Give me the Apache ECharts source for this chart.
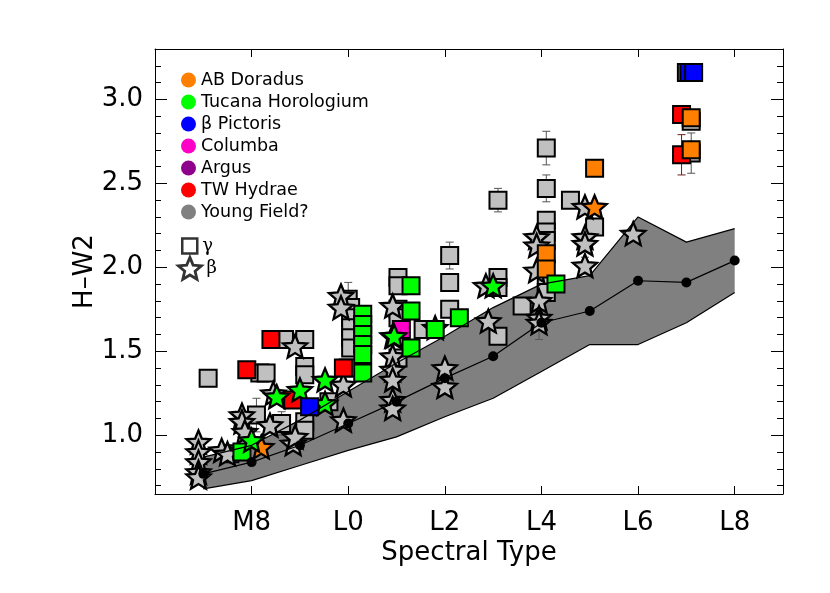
<!DOCTYPE html>
<html>
<head>
<meta charset="UTF-8">
<title>H-W2 vs Spectral Type</title>
<script src="https://cdn.jsdelivr.net/npm/echarts@6/dist/echarts.min.js"></script>
<style>
  html, body { margin: 0; padding: 0; background: #fff; }
  #main { width: 830px; height: 593px; }
</style>
</head>
<body>
<div id="main"></div>
<script>
// spectral type as a number: M7 = 7, M8 = 8, M9 = 9, L0 = 10 ... L8 = 18
var typeTicks = [8, 10, 12, 14, 16, 18];
var colorTicks = [1.0, 1.5, 2.0, 2.5, 3.0];
var colorMinor = [0.7, 0.8, 0.9, 1.1, 1.2, 1.3, 1.4, 1.6, 1.7, 1.8, 1.9,
                  2.1, 2.2, 2.3, 2.4, 2.6, 2.7, 2.8, 2.9, 3.1, 3.2];

// field dwarf sequence (median and spread)
var fieldTypes = [7, 8, 9, 10, 11, 12, 13, 14, 15, 16, 17, 18];
var fieldMedian = [0.77, 0.84, 0.94, 1.07, 1.20, 1.34, 1.47, 1.67, 1.74, 1.92, 1.91, 2.04];
var fieldLow = [0.68, 0.73, 0.82, 0.91, 0.99, 1.11, 1.22, 1.38, 1.54, 1.54, 1.67, 1.85];
var fieldHigh = [0.87, 0.94, 1.09, 1.26, 1.43, 1.59, 1.76, 1.90, 1.95, 2.30, 2.15, 2.23];

// [spectral type, H-W2, error]
var youngSq = [
  [7.1, 1.34, 0.03], [7.55, 0.89, 0], [8.1, 1.12, 0.1], [8.17, 1.37, 0], [8.3, 1.37, 0],
  [8.62, 1.07, 0.07], [8.68, 1.57, 0], [9.1, 1.57, 0], [9.1, 1.41, 0], [9.1, 1.36, 0],
  [9.1, 1.08, 0], [9.1, 1.03, 0], [9.6, 1.2, 0],
  [10.0, 1.81, 0.1], [10.05, 1.76, 0], [10.05, 1.70, 0], [10.05, 1.64, 0], [10.05, 1.58, 0],
  [10.05, 1.52, 0], [10.0, 1.40, 0],
  [11.03, 1.94, 0], [11.03, 1.89, 0], [11.03, 1.75, 0], [11.03, 1.70, 0], [11.03, 1.46, 0],
  [11.55, 1.63, 0],
  [12.1, 2.07, 0.08], [12.1, 1.91, 0.03], [12.1, 1.75, 0.03],
  [13.1, 2.40, 0.07], [13.1, 1.94, 0], [13.1, 1.88, 0], [13.1, 1.59, 0.05], [13.6, 1.77, 0],
  [14.1, 2.71, 0.1], [14.1, 2.47, 0.08], [14.1, 2.28, 0.05], [14.1, 2.21, 0], [14.1, 2.16, 0],
  [14.1, 1.90, 0], [14.1, 1.85, 0],
  [14.6, 2.40, 0.05], [15.1, 2.24, 0],
  [17.0, 3.16, 0], [17.1, 2.87, 0], [17.1, 2.68, 0.12]
];
var youngStar = [
  [6.9, 0.96, 0], [6.9, 0.90, 0], [6.9, 0.84, 0], [6.9, 0.78, 0], [6.9, 0.75, 0],
  [7.38, 0.91, 0], [7.5, 0.89, 0], [7.8, 1.12, 0], [7.8, 1.08, 0], [7.86, 1.02, 0],
  [8.38, 1.06, 0], [8.45, 1.25, 0], [8.86, 0.95, 0], [8.9, 0.99, 0], [8.9, 1.53, 0],
  [9.85, 1.83, 0], [9.85, 1.76, 0], [9.9, 1.30, 0], [9.9, 1.09, 0],
  [10.92, 1.77, 0], [10.92, 1.59, 0], [10.92, 1.47, 0], [10.92, 1.39, 0], [10.92, 1.33, 0],
  [10.92, 1.21, 0], [10.92, 1.16, 0],
  [12.0, 1.40, 0], [12.0, 1.29, 0], [12.85, 1.89, 0], [12.9, 1.68, 0],
  [13.9, 2.18, 0], [13.9, 2.13, 0], [13.9, 1.98, 0], [13.95, 1.80, 0], [13.95, 1.70, 0],
  [13.95, 1.67, 0.1],
  [14.9, 2.36, 0], [14.9, 2.18, 0], [14.9, 2.14, 0], [14.9, 2.01, 0.05], [15.9, 2.20, 0.04]
];
var twaSq = [[7.9, 1.39, 0.03], [8.4, 1.57, 0.03], [8.85, 1.21, 0], [9.9, 1.40, 0.03],
  [16.9, 2.91, 0], [16.9, 2.67, 0.12]];
var argusStar = [[11.8, 1.64, 0]];
var abdorSq = [[14.1, 2.08, 0], [14.1, 1.99, 0], [15.1, 2.59, 0.04], [17.1, 2.89, 0.05], [17.1, 2.70, 0.05]];
var abdorStar = [[8.2, 0.93, 0], [15.1, 2.36, 0]];
var columbaSq = [[11.1, 1.63, 0]];
var tucSq = [[7.8, 0.90, 0.04], [10.3, 1.72, 0.03], [10.3, 1.66, 0.03], [10.3, 1.60, 0.03],
  [10.3, 1.54, 0.03], [10.3, 1.48, 0.03], [10.3, 1.37, 0.05], [11.3, 1.89, 0.05],
  [11.3, 1.74, 0.03], [11.3, 1.52, 0], [11.8, 1.63, 0], [12.3, 1.70, 0.04], [14.3, 1.90, 0.05]];
var tucStar = [[8.0, 0.97, 0], [8.52, 1.23, 0], [9.0, 1.27, 0], [9.52, 1.33, 0], [9.52, 1.19, 0],
  [10.95, 1.59, 0], [13.0, 1.89, 0]];
var bpicSq = [[9.2, 1.17, 0.04], [17.05, 3.16, 0], [17.15, 3.16, 0]];

var groupNames = ['AB Doradus', 'Tucana Horologium', 'β Pictoris', 'Columba', 'Argus', 'TW Hydrae', 'Young Field?'];
var groupColors = ['#ff8000', '#00ff00', '#0000ff', '#ff00c8', '#8c008c', '#ff0000', '#808080'];

var STAR = 'path://M0,-10L2.645,-3.641L9.511,-3.09L4.28,1.391L5.878,8.09L0,4.5L-5.878,8.09L-4.28,1.391L-9.511,-3.09L-2.645,-3.641Z';
var FONT = 'DejaVu Sans';

function typeLabel(v) {
  return v < 10 ? 'M' + v : 'L' + (v - 10);
}

function squares(name, data, fill) {
  return {
    name: name, type: 'scatter', data: data, symbol: 'rect', symbolSize: 17,
    itemStyle: { color: fill, borderColor: '#000', borderWidth: 2, opacity: 1 },
    emphasis: { disabled: true }
  };
}
function stars(name, data, fill) {
  return {
    name: name, type: 'scatter', data: data, symbol: STAR, symbolSize: 24, symbolKeepAspect: true,
    itemStyle: { color: fill, borderColor: '#000', borderWidth: 2.3, opacity: 1 },
    emphasis: { disabled: true }
  };
}
function errors(data, color) {
  return {
    type: 'custom', data: data, encode: { x: 0, y: 1 }, silent: true,
    renderItem: function (params, api) {
      var x = api.value(0), y = api.value(1), e = api.value(2);
      if (!e) return null;
      var a = api.coord([x, y + e]), b = api.coord([x, y - e]);
      var st = { stroke: color, lineWidth: 1 };
      return { type: 'group', children: [
        { type: 'line', shape: { x1: a[0], y1: a[1], x2: b[0], y2: b[1] }, style: st },
        { type: 'line', shape: { x1: a[0] - 4, y1: a[1], x2: a[0] + 4, y2: a[1] }, style: st },
        { type: 'line', shape: { x1: b[0] - 4, y1: b[1], x2: b[0] + 4, y2: b[1] }, style: st }
      ] };
    }
  };
}

var bandSeries = {
  type: 'custom', silent: true, data: [[fieldTypes[0], fieldLow[0]]], encode: { x: 0, y: 1 },
  renderItem: function (params, api) {
    var pts = [];
    for (var i = 0; i < fieldTypes.length; i++) pts.push(api.coord([fieldTypes[i], fieldHigh[i]]));
    for (var j = fieldTypes.length - 1; j >= 0; j--) pts.push(api.coord([fieldTypes[j], fieldLow[j]]));
    return { type: 'polygon', shape: { points: pts }, style: { fill: '#808080' } };
  }
};
function edge(values) {
  return {
    type: 'line', data: fieldTypes.map(function (t, i) { return [t, values[i]]; }),
    symbol: 'none', silent: true, lineStyle: { color: '#000', width: 1.2 }
  };
}

var series = [
  bandSeries, edge(fieldHigh), edge(fieldLow),
  {
    type: 'line', data: fieldTypes.map(function (t, i) { return [t, fieldMedian[i]]; }),
    symbol: 'circle', symbolSize: 10, silent: true,
    itemStyle: { color: '#000' }, lineStyle: { color: '#000', width: 1.2 }
  },
  squares('Young Field?', youngSq, '#c0c0c0'), errors(youngSq, '#555'),
  stars('Young Field?', youngStar, '#c0c0c0'), errors(youngStar, '#555'),
  squares('TW Hydrae', twaSq, '#ff0000'), errors(twaSq, '#6a2020'),
  stars('Argus', argusStar, '#8c008c'),
  squares('AB Doradus', abdorSq, '#ff8000'), errors(abdorSq, '#5a3a1a'),
  stars('AB Doradus', abdorStar, '#ff8000'),
  squares('Columba', columbaSq, '#ff00c8'),
  squares('Tucana Horologium', tucSq, '#00ff00'), errors(tucSq, '#1d5a1d'),
  stars('Tucana Horologium', tucStar, '#00ff00'),
  squares('β Pictoris', bpicSq, '#0000ff'), errors(bpicSq, '#222'),
  { name: 'γ', type: 'scatter', data: [] },
  { name: 'β', type: 'scatter', data: [] }
];

var axisText = { fontFamily: FONT, fontSize: 26, color: '#000' };

var option = {
  animation: false,
  backgroundColor: '#fff',
  grid: { left: 155, right: 47, top: 49, bottom: 99, containLabel: false },
  xAxis: [
    {
      type: 'value', min: 6, max: 19, position: 'bottom',
      name: 'Spectral Type', nameLocation: 'middle', nameGap: 46, nameTextStyle: axisText,
      nameMoveOverlap: false,
      axisLine: { show: true, lineStyle: { color: '#000', width: 1 } },
      axisTick: { show: true, inside: true, length: 8, customValues: typeTicks, lineStyle: { color: '#000' } },
      axisLabel: { customValues: typeTicks, formatter: typeLabel, margin: 16,
        fontFamily: FONT, fontSize: 26, color: '#000' },
      splitLine: { show: false }
    },
    {
      type: 'value', min: 6, max: 19, position: 'top',
      axisLine: { show: true, lineStyle: { color: '#000', width: 1 } },
      axisTick: { show: true, inside: true, length: 8, customValues: typeTicks, lineStyle: { color: '#000' } },
      axisLabel: { show: false }, splitLine: { show: false }
    }
  ],
  yAxis: [
    {
      type: 'value', min: 0.65, max: 3.3, position: 'left',
      name: 'H–W2', nameLocation: 'middle', nameGap: 57, nameRotate: 90, nameTextStyle: axisText,
      nameMoveOverlap: false,
      axisLine: { show: true, lineStyle: { color: '#000', width: 1 } },
      axisTick: { show: true, inside: true, length: 12, customValues: colorTicks, lineStyle: { color: '#000' } },
      axisLabel: { customValues: colorTicks, margin: 12, formatter: function (v) { return v.toFixed(1); },
        fontFamily: FONT, fontSize: 26, color: '#000' },
      splitLine: { show: false }
    },
    {
      type: 'value', min: 0.65, max: 3.3, position: 'left',
      axisLine: { show: false },
      axisTick: { show: true, inside: true, length: 6, customValues: colorMinor, lineStyle: { color: '#000' } },
      axisLabel: { show: false }, splitLine: { show: false }
    },
    {
      type: 'value', min: 0.65, max: 3.3, position: 'right',
      axisLine: { show: true, onZero: false, lineStyle: { color: '#000', width: 1 } },
      axisTick: { show: true, inside: true, length: 12, customValues: colorTicks, lineStyle: { color: '#000' } },
      axisLabel: { show: false }, splitLine: { show: false }
    },
    {
      type: 'value', min: 0.65, max: 3.3, position: 'right',
      axisLine: { show: false },
      axisTick: { show: true, inside: true, length: 6, customValues: colorMinor, lineStyle: { color: '#000' } },
      axisLabel: { show: false }, splitLine: { show: false }
    }
  ],
  legend: [
    {
      left: 181, top: 71, orient: 'vertical', padding: 0, itemWidth: 15, itemHeight: 15, itemGap: 4,
      selectedMode: false,
      textStyle: { fontFamily: FONT, fontSize: 17.5, color: '#000' },
      data: groupNames.map(function (n, i) {
        return { name: n, icon: 'circle', itemStyle: { color: groupColors[i], borderWidth: 0 } };
      })
    },
    {
      left: 181, top: 237, orient: 'vertical', padding: 0, itemWidth: 15, itemHeight: 15,
      selectedMode: false,
      textStyle: { fontFamily: 'DejaVu Serif', fontSize: 18, color: '#000' },
      data: [{ name: 'γ', icon: 'rect', itemStyle: { color: '#fff', borderColor: '#000', borderWidth: 2.5 } }]
    },
    {
      left: 177, top: 256, orient: 'vertical', padding: 0, itemWidth: 23, itemHeight: 22,
      selectedMode: false,
      textStyle: { fontFamily: 'DejaVu Serif', fontSize: 18, color: '#000' },
      data: [{ name: 'β', icon: STAR, itemStyle: { color: '#fff', borderColor: '#000', borderWidth: 2.8 } }]
    }
  ],
  series: series
};

var myChart = echarts.init(document.getElementById('main'));
myChart.setOption(option);
</script>
</body>
</html>
